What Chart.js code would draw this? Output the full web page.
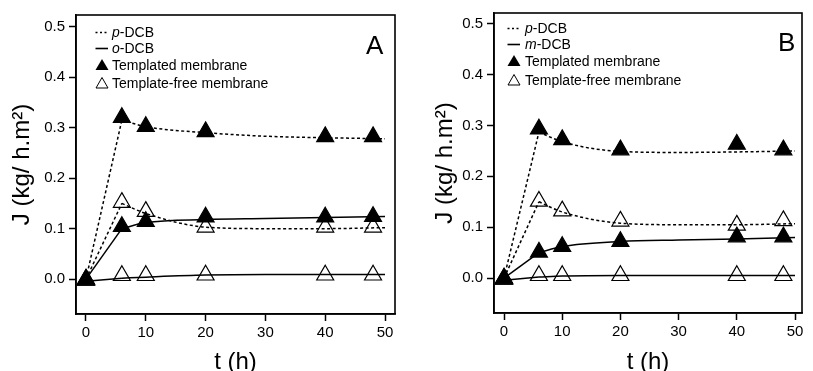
<!DOCTYPE html>
<html>
<head>
<meta charset="utf-8">
<script src="https://cdn.jsdelivr.net/npm/chart.js@4/dist/chart.umd.min.js"></script>
<style>
  body { margin: 0; background: #fff; }
  #wrap { position: relative; width: 813px; height: 371px; overflow: hidden; font-family: "Liberation Sans", Arial, sans-serif; }
  .panel { position: absolute; top: 0; }
  .leg { position: absolute; font-size: 14px; line-height: 16px; height: 16px; white-space: nowrap; color: #000; }
  .sym { position: absolute; top: 0; }
  .letter { position: absolute; font-size: 26px; line-height: 26px; color: #000; }
</style>
</head>
<body>
<div id="wrap">
  <div class="panel" style="left:0"><canvas id="chartA" width="406" height="371"></canvas></div>
  <div class="panel" style="left:406px"><canvas id="chartB" width="407" height="371"></canvas></div>
  <div id="legA"></div>
  <div id="legB"></div>
  <div class="letter" style="left:366px; top:31.5px">A</div>
  <div class="letter" style="left:778px; top:28.5px">B</div>
</div>
<script>
const tHours = [0, 6, 10, 20, 40, 48];
const tFit = [0, 6, 10, 20, 30, 40, 50];
const xTicks = [0, 10, 20, 30, 40, 50];
const yTicks = [0, 0.1, 0.2, 0.3, 0.4, 0.5];

// panel A: p-DCB and o-DCB
const pTemplatedA = [0, 0.32, 0.302, 0.292, 0.282, 0.282];
const pFreeA = [-0.002, 0.152, 0.134, 0.103, 0.103, 0.103];
const oTemplatedA = [0, 0.104, 0.114, 0.123, 0.123, 0.124];
const oFreeA = [-0.002, 0.007, 0.007, 0.008, 0.008, 0.008];
const pTemplatedFitA = [0, 0.315, 0.302, 0.29, 0.283, 0.28, 0.278];
const pFreeFitA = [0, 0.15, 0.13, 0.103, 0.1, 0.1, 0.102];
const oTemplatedFitA = [0, 0.1, 0.112, 0.118, 0.12, 0.122, 0.124];
const oFreeFitA = [-0.004, 0.002, 0.004, 0.008, 0.009, 0.009, 0.009];

// panel B: p-DCB and m-DCB
const pTemplatedB = [0, 0.293, 0.272, 0.252, 0.263, 0.252];
const pFreeB = [-0.002, 0.151, 0.132, 0.112, 0.104, 0.113];
const mTemplatedB = [0, 0.051, 0.062, 0.072, 0.081, 0.081];
const mFreeB = [-0.002, 0.005, 0.005, 0.005, 0.005, 0.005];
const pTemplatedFitB = [0, 0.287, 0.268, 0.249, 0.247, 0.248, 0.25];
const pFreeFitB = [0, 0.15, 0.13, 0.108, 0.105, 0.105, 0.107];
const mTemplatedFitB = [0, 0.05, 0.062, 0.072, 0.075, 0.077, 0.08];
const mFreeFitB = [-0.004, 0.002, 0.004, 0.005, 0.005, 0.005, 0.005];

const toXY = (xs, ys) => xs.map((x, i) => ({ x, y: ys[i] }));

// straight rise from t=0, then a smooth curve from the first sample on
const fitLine = (ys, dotted) => {
    const base = {
        showLine: true,
        borderColor: "#000",
        borderWidth: 1.5,
        borderDash: dotted ? [3, 2.5] : [],
        pointRadius: 0,
        order: 2,
    };
    const pts = toXY(tFit, ys);
    return [
        { ...base, data: pts.slice(0, 2), tension: 0 },
        { ...base, data: pts.slice(1), cubicInterpolationMode: "monotone" },
    ];
};

const markers = (ys, filled) => ({
    data: toXY(tHours, ys),
    showLine: false,
    pointStyle: "triangle",
    pointRadius: 9.8,
    pointHoverRadius: 9.8,
    pointBorderWidth: 1.2,
    pointBorderColor: "#000",
    pointBackgroundColor: filled ? "#000" : "rgba(0,0,0,0)",
    order: 1,
});

const frame = {
    id: "frame",
    afterDraw(chart) {
        const { ctx, chartArea: a } = chart;
        ctx.save();
        ctx.strokeStyle = "#000";
        ctx.lineWidth = 1.6;
        ctx.strokeRect(a.left, a.top, a.right - a.left, a.bottom - a.top);
        ctx.restore();
    },
};

const tickFont = { family: "'Liberation Sans', Arial, sans-serif", size: 15 };
const titleFont = { family: "'Liberation Sans', Arial, sans-serif", size: 24 };

const makeChart = (id, datasets, cfg) => new Chart(document.getElementById(id), {
    type: "scatter",
    data: { datasets },
    options: {
        responsive: false,
        devicePixelRatio: 1,
        animation: false,
        events: [],
        layout: { padding: { top: cfg.top, right: cfg.right, left: 0, bottom: 0 } },
        plugins: { legend: { display: false }, tooltip: { enabled: false } },
        scales: {
            x: {
                type: "linear",
                min: cfg.xMin,
                max: cfg.xMax,
                afterBuildTicks: (s) => { s.ticks = xTicks.map((v) => ({ value: v })); },
                afterFit: (s) => { s.height = cfg.xAxisH; },
                grid: { drawOnChartArea: false, color: "#000", tickLength: 7, tickWidth: 1.5 },
                border: { color: "#000", width: 1.6 },
                ticks: { color: "#000", font: tickFont, padding: 3, maxRotation: 0 },
                title: { display: true, text: "t (h)", color: "#000", font: { ...titleFont, lineHeight: 0.75 }, padding: 0 },
            },
            y: {
                type: "linear",
                min: cfg.yMin,
                max: cfg.yMax,
                afterBuildTicks: (s) => { s.ticks = yTicks.map((v) => ({ value: v })); },
                afterFit: (s) => { s.width = cfg.yAxisW; },
                grid: { drawOnChartArea: false, color: "#000", tickLength: 7, tickWidth: 1.5 },
                border: { color: "#000", width: 1.6 },
                ticks: { color: "#000", font: tickFont, padding: 4, callback: (v) => v.toFixed(1) },
                title: { display: true, text: "J (kg/ h.m²)", color: "#000", font: titleFont, padding: { top: cfg.yTitlePad, bottom: 0 } },
            },
        },
    },
    plugins: [frame],
});

makeChart("chartA", [
    ...fitLine(pTemplatedFitA, true),
    ...fitLine(pFreeFitA, true),
    ...fitLine(oTemplatedFitA, false),
    ...fitLine(oFreeFitA, false),
    markers(pTemplatedA, true),
    markers(pFreeA, false),
    markers(oTemplatedA, true),
    markers(oFreeA, false),
], { top: 15, right: 10, xAxisH: 57, yAxisW: 76, yTitlePad: 7.6, xMin: -1.67, xMax: 51.67, yMin: -0.069, yMax: 0.523 });

makeChart("chartB", [
    ...fitLine(pTemplatedFitB, true),
    ...fitLine(pFreeFitB, true),
    ...fitLine(mTemplatedFitB, false),
    ...fitLine(mFreeFitB, false),
    markers(pTemplatedB, true),
    markers(pFreeB, false),
    markers(mTemplatedB, true),
    markers(mFreeB, false),
], { top: 13, right: 1, xAxisH: 58, yAxisW: 88, yTitlePad: 24.6, xMin: -1.72, xMax: 51.2, yMin: -0.0685, yMax: 0.521 });

// legends drawn as html text over the charts
const dotted = '<svg width="13" height="16"><line x1="0.5" y1="8.5" x2="13" y2="8.5" stroke="#000" stroke-width="1.5" stroke-dasharray="2,2.5"/></svg>';
const solid = '<svg width="13" height="16"><line x1="0.5" y1="8.5" x2="13" y2="8.5" stroke="#000" stroke-width="1.6"/></svg>';
const triFull = '<svg width="14" height="16"><polygon points="7,2 13.5,13 0.5,13" fill="#000"/></svg>';
const triOpen = '<svg width="14" height="16"><polygon points="7,2.5 13,13 1,13" fill="none" stroke="#000" stroke-width="1"/></svg>';

const buildLegend = (id, symX, textX, rows, second) => {
    const items = [
        [dotted, '<i>p</i>-DCB'],
        [solid, '<i>' + second + '</i>-DCB'],
        [triFull, 'Templated membrane'],
        [triOpen, 'Template-free membrane'],
    ];
    document.getElementById(id).innerHTML = items.map(([sym, txt], i) =>
        `<div class="leg" style="left:${symX}px; top:${rows[i] - 8}px">${sym.replace("<svg", '<svg class="sym" style="left:0"')}` +
        `<span style="position:absolute; left:${textX - symX}px">${txt}</span></div>`
    ).join("");
};

buildLegend("legA", 95, 112, [32, 48, 64.5, 82.5], "o");
buildLegend("legB", 507, 525, [28, 44, 61, 79.5], "m");
</script>
</body>
</html>
